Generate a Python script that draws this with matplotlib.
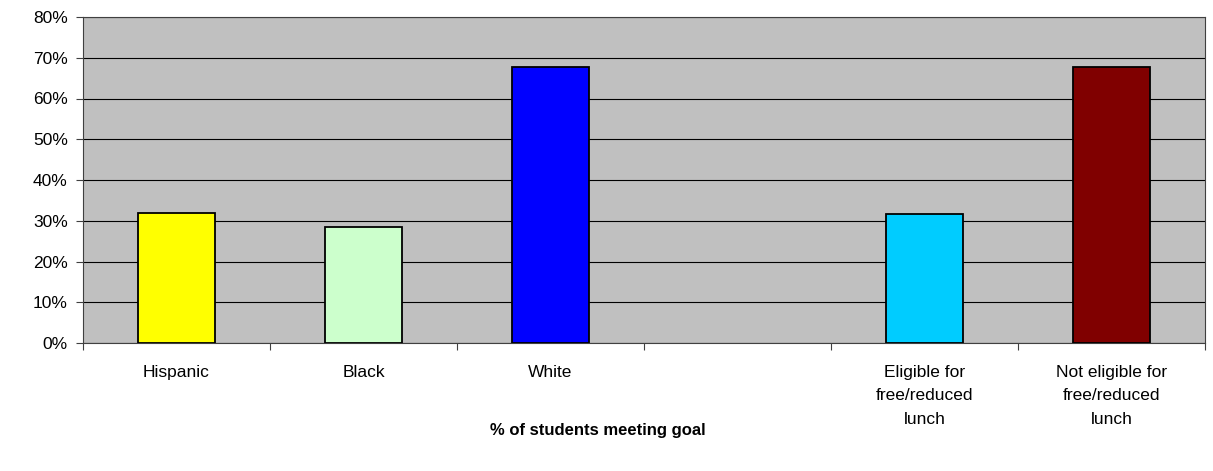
import matplotlib.pyplot as plt
import numpy as np

plt.rcParams['font.family'] = ['Liberation Sans', 'DejaVu Sans']

# groups on the x axis; the empty slot separates race from lunch status
categories = ['Hispanic', 'Black', 'White', '',
              'Eligible for\nfree/reduced\nlunch',
              'Not eligible for\nfree/reduced\nlunch']
pct_meeting_goal = [31.8, 28.5, 67.8, np.nan, 31.6, 67.8]
bar_colors = ['#FFFF00', '#CCFFCC', '#0000FF', 'none', '#00CCFF', '#800000']
y_ticks = [0, 10, 20, 30, 40, 50, 60, 70, 80]

fig = plt.figure(figsize=(12.13, 4.71), dpi=100)
ax = fig.add_axes([83 / 1213, 1 - 343 / 471, 1122 / 1213, 326 / 471])
ax.set_facecolor('#C0C0C0')

x = np.arange(len(categories))
ax.bar(x, pct_meeting_goal, width=0.41, color=bar_colors,
       edgecolor='black', linewidth=1.3, zorder=3)

ax.set_xlim(-0.5, len(categories) - 0.5)
ax.set_ylim(0, 80)
ax.set_yticks(y_ticks)
ax.set_yticklabels([f'{t}%' for t in y_ticks], fontsize=12.5)
ax.yaxis.grid(True, color='black', linewidth=0.8, zorder=1)

# category labels sit between the boundary ticks
ax.set_xticks(x)
ax.set_xticklabels(categories, fontsize=12.5, linespacing=1.72)
ax.tick_params(axis='x', length=0, pad=15.5)
ax.set_xticks(np.arange(len(categories) + 1) - 0.5, minor=True)
ax.tick_params(axis='x', which='minor', length=5, width=0.8, color='#404040')
ax.tick_params(axis='y', length=5, width=0.8, color='#404040', pad=6)

for s in ax.spines.values():
    s.set_color('#404040')
    s.set_linewidth(0.8)

fig.text(598 / 1213, 1 - 431 / 471, '% of students meeting goal',
         ha='center', va='center', fontsize=12, fontweight='bold')

fig.savefig('out.png', dpi=100, facecolor='white')
